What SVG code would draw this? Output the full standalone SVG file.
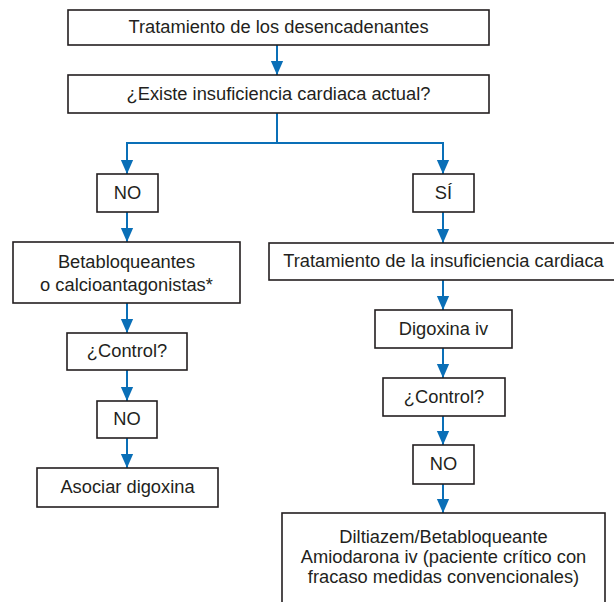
<svg xmlns="http://www.w3.org/2000/svg" width="614" height="602" viewBox="0 0 614 602">
  <style>
    .box { fill: #ffffff; stroke: #231f20; stroke-width: 1.6; }
    .lbl { font-family: "Liberation Sans", Arial, sans-serif; font-size: 18.3px; fill: #231f20; text-anchor: middle; }
    .link { fill: none; stroke: #0a6fb7; stroke-width: 2; }
  </style>
  <defs>
    <marker id="head" markerUnits="userSpaceOnUse" markerWidth="14" markerHeight="16" refX="16" refY="7" orient="auto" viewBox="0 0 16 14">
      <path d="M0 0 L16 7 L0 14 Z" fill="#0a6fb7"/>
    </marker>
  </defs>

  <!-- connectors -->
  <g id="connectors">
    <path class="link" d="M277 45 V75" marker-end="url(#head)"/>
    <path class="link" d="M277 113 V143 H127 V174" marker-end="url(#head)"/>
    <path class="link" d="M277 143 H443 V174" marker-end="url(#head)"/>
    <path class="link" d="M127 212 V242" marker-end="url(#head)"/>
    <path class="link" d="M443 212 V243" marker-end="url(#head)"/>
    <path class="link" d="M127 303 V333" marker-end="url(#head)"/>
    <path class="link" d="M127 370 V401" marker-end="url(#head)"/>
    <path class="link" d="M127 438 V468" marker-end="url(#head)"/>
    <path class="link" d="M443 280 V310" marker-end="url(#head)"/>
    <path class="link" d="M443 348 V378" marker-end="url(#head)"/>
    <path class="link" d="M443 416 V445" marker-end="url(#head)"/>
    <path class="link" d="M443 484 V513" marker-end="url(#head)"/>
  </g>

  <g id="desencadenantes">
    <rect class="box" x="68" y="10" width="421" height="35"/>
    <text class="lbl" x="278.5" y="33">Tratamiento de los desencadenantes</text>
  </g>
  <g id="existe-ic">
    <rect class="box" x="68" y="75" width="421" height="38"/>
    <text class="lbl" x="278.5" y="100">¿Existe insuficiencia cardiaca actual?</text>
  </g>
  <g id="no-ic">
    <rect class="box" x="97" y="174" width="61" height="38"/>
    <text class="lbl" x="127.5" y="199">NO</text>
  </g>
  <g id="si-ic">
    <rect class="box" x="413" y="174" width="61" height="38"/>
    <text class="lbl" x="443.5" y="199">SÍ</text>
  </g>
  <g id="betabloqueantes">
    <rect class="box" x="13" y="242" width="227" height="61"/>
    <text class="lbl" x="126.5" y="268">Betabloqueantes</text>
    <text class="lbl" x="126.5" y="291">o calcioantagonistas*</text>
  </g>
  <g id="tratamiento-ic">
    <rect class="box" x="269" y="243" width="350" height="37"/>
    <text class="lbl" x="443.5" y="267">Tratamiento de la insuficiencia cardiaca</text>
  </g>
  <g id="control-izq">
    <rect class="box" x="67" y="333" width="120" height="37"/>
    <text class="lbl" x="127" y="357">¿Control?</text>
  </g>
  <g id="no-izq">
    <rect class="box" x="97" y="401" width="60" height="37"/>
    <text class="lbl" x="127" y="425">NO</text>
  </g>
  <g id="asociar-digoxina">
    <rect class="box" x="37" y="468" width="181" height="39"/>
    <text class="lbl" x="127.5" y="493">Asociar digoxina</text>
  </g>
  <g id="digoxina-iv">
    <rect class="box" x="375" y="310" width="137" height="38"/>
    <text class="lbl" x="443.5" y="335">Digoxina iv</text>
  </g>
  <g id="control-der">
    <rect class="box" x="383" y="378" width="122" height="38"/>
    <text class="lbl" x="444" y="403">¿Control?</text>
  </g>
  <g id="no-der">
    <rect class="box" x="413" y="445" width="61" height="39"/>
    <text class="lbl" x="443.5" y="470">NO</text>
  </g>
  <g id="diltiazem">
    <rect class="box" x="282" y="513" width="323" height="100"/>
    <text class="lbl" x="443.5" y="543">Diltiazem/Betabloqueante</text>
    <text class="lbl" x="443.5" y="563">Amiodarona iv (paciente crítico con</text>
    <text class="lbl" x="443.5" y="583">fracaso medidas convencionales)</text>
  </g>
</svg>
